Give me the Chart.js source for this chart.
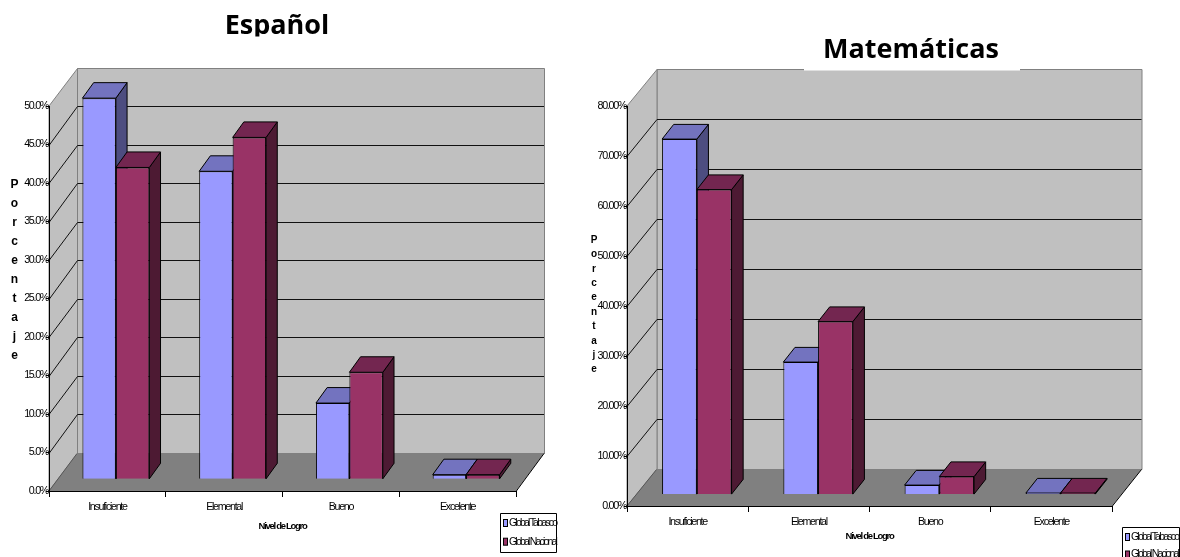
<!DOCTYPE html>
<html>
<head>
<meta charset="utf-8">
<title>Nivel de Logro</title>
<script src="https://cdn.jsdelivr.net/npm/chart.js@4"></script>
<style>
html, body { margin: 0; padding: 0; background: #fff; overflow: hidden; }
canvas { position: absolute; top: 0; }
#espanol { left: 0; }
#matematicas { left: 590px; }
</style>
</head>
<body>
<canvas id="espanol" width="590" height="557"></canvas>
<canvas id="matematicas" width="590" height="557"></canvas>
<script>
const categories = ['Insuficiente', 'Elemental', 'Bueno', 'Excelente'];
const seriesNames = ['Global Tabasco', 'Global Nacional'];
const espanolTabasco = [49.5, 40.0, 9.9, 0.6];
const espanolNacional = [40.5, 44.4, 13.9, 0.6];
const matematicasTabasco = [71.1, 26.5, 1.9, 0.3];
const matematicasNacional = [61.0, 34.6, 3.6, 0.3];
const axisTitleX = 'Nivel de Logro';
const axisTitleY = 'Porcentaje';

const frontColors = ['#9999ff', '#993366'];
const topColors = ['#7373bf', '#732650'];
const sideColors = ['#4d4d80', '#4d1a33'];

function poly(ctx, pts, fill, stroke) {
    ctx.beginPath();
    pts.forEach((p, i) => i ? ctx.lineTo(p[0], p[1]) : ctx.moveTo(p[0], p[1]));
    ctx.closePath();
    if (fill) { ctx.fillStyle = fill; ctx.fill(); }
    if (stroke) { ctx.strokeStyle = stroke; ctx.lineWidth = 1; ctx.stroke(); }
}

// Walls, floor and grid of the 3D box, behind everything else
const boxPlugin = {
    id: 'box',
    beforeDraw(chart, args, o) {
        const ctx = chart.ctx;
        const { left, right, top, bottom } = chart.chartArea;
        const dx = o.depthX, dy = o.depthY;
        ctx.letterSpacing = o.squeeze + 'px';
        ctx.save();
        const backTop = Math.round(top - dy) + 0.5;
        const backBottom = Math.round(bottom - dy) + 0.5;
        poly(ctx, [[left + dx + 0.5, backTop], [right + dx + 0.5, backTop], [right + dx + 0.5, backBottom], [left + dx + 0.5, backBottom]], '#c0c0c0', '#808080');
        poly(ctx, [[left, top], [left + dx + 0.5, backTop], [left + dx + 0.5, backBottom], [left, bottom]], '#c0c0c0', '#808080');
        ctx.strokeStyle = '#111';
        ctx.lineWidth = 1;
        chart.scales.y.ticks.forEach(t => {
            const y = chart.scales.y.getPixelForValue(t.value);
            if (t.value === 0 || y <= top + 1) return;
            const back = Math.round(y - dy) + 0.5;
            ctx.beginPath();
            ctx.moveTo(left, Math.round(y) + 0.5);
            ctx.lineTo(left + dx + 0.5, back);
            ctx.lineTo(right + dx, back);
            ctx.stroke();
        });
        poly(ctx, [[left, bottom], [right, bottom], [right + dx, backBottom], [left + dx, backBottom]], '#808080');
        ctx.strokeStyle = '#000';
        ctx.beginPath();
        ctx.moveTo(right, bottom + 0.5);
        ctx.lineTo(right + dx, backBottom);
        ctx.stroke();
        ctx.strokeStyle = '#555';
        ctx.beginPath();
        ctx.moveTo(left, bottom);
        ctx.lineTo(left + dx, backBottom);
        ctx.stroke();
        ctx.restore();
    }
};

// Top and side faces from the bar elements; the front faces are shifted into the box
const depthPlugin = {
    id: 'depth',
    beforeDatasetsDraw(chart, args, o) {
        const ctx = chart.ctx;
        const ox = o.shiftX, oy = o.shiftY, bx = o.barX, by = o.barY;
        ctx.save();
        ctx.lineJoin = 'round';
        chart.data.datasets.forEach((ds, i) => {
            chart.getDatasetMeta(i).data.forEach(bar => {
                const l = bar.x - bar.width / 2 + ox, r = bar.x + bar.width / 2 + ox;
                const t = bar.y + oy, b = bar.base + oy;
                poly(ctx, [[r, t], [r + bx, t - by], [r + bx, b - by], [r, b]], sideColors[i], '#000');
                poly(ctx, [[l, t], [l + bx, t - by], [r + bx, t - by], [r, t]], topColors[i], '#000');
            });
        });
        ctx.restore();
        ctx.save();
        ctx.translate(ox, oy);
    },
    afterDatasetsDraw(chart) {
        chart.ctx.restore();
    }
};

// Chart heading, stacked y axis title and the boxed legend
const labelsPlugin = {
    id: 'labels',
    afterDraw(chart, args, o) {
        const ctx = chart.ctx;
        ctx.save();
        if (o.mask) {
            ctx.fillStyle = '#fff';
            ctx.fillRect(o.mask[0], o.mask[1], o.mask[2], o.mask[3]);
        }
        ctx.beginPath();
        ctx.rect(0, 0, chart.width, o.headingClip);
        ctx.clip();
        ctx.letterSpacing = '0px';
        ctx.font = 'bold ' + o.headingSize + 'px "Open Sans"';
        ctx.fillStyle = '#000';
        ctx.textAlign = 'center';
        ctx.textBaseline = 'alphabetic';
        ctx.fillText(o.heading, o.headingX, o.headingY);
        ctx.restore();

        ctx.save();
        ctx.letterSpacing = '0px';
        ctx.font = 'bold ' + o.stackSize + 'px "Liberation Sans"';
        ctx.fillStyle = '#000';
        ctx.textAlign = 'center';
        ctx.textBaseline = 'middle';
        axisTitleY.split('').forEach((ch, i) => ctx.fillText(ch, o.stackX, o.stackY + i * o.stackStep));

        poly(ctx, [[o.legendX + 0.5, o.legendY + 0.5], [o.legendX + o.legendW + 0.5, o.legendY + 0.5], [o.legendX + o.legendW + 0.5, o.legendY + o.legendH + 0.5], [o.legendX + 0.5, o.legendY + o.legendH + 0.5]], '#fff', '#000');
        ctx.font = o.legendSize + 'px "Liberation Sans"';
        ctx.letterSpacing = o.legendSqueeze + 'px';
        ctx.textAlign = 'left';
        chart.data.datasets.forEach((ds, i) => {
            const y = o.legendY + o.legendFirst + i * o.legendStep;
            ctx.fillStyle = ds.backgroundColor;
            ctx.strokeStyle = '#000';
            ctx.lineWidth = 1;
            ctx.fillRect(o.legendX + 3.5, y - 3.5, 4, 7);
            ctx.strokeRect(o.legendX + 3.5, y - 3.5, 4, 7);
            ctx.fillStyle = '#000';
            ctx.fillText(ds.label, o.legendX + 9, y);
        });
        ctx.restore();
    }
};

function makeChart(id, tabasco, nacional, c) {
    return new Chart(document.getElementById(id), {
        type: 'bar',
        data: {
            labels: categories,
            datasets: [tabasco, nacional].map((values, i) => ({
                label: seriesNames[i],
                data: values,
                backgroundColor: frontColors[i],
                borderColor: '#000',
                borderWidth: 1,
                barPercentage: 1,
                categoryPercentage: 0.573,
                clip: false
            }))
        },
        options: {
            responsive: false,
            animation: false,
            events: [],
            layout: {
                autoPadding: false,
                padding: { left: 0, top: c.top, right: 590 - c.right, bottom: 557 - c.bottom - c.xHeight }
            },
            plugins: {
                legend: { display: false },
                tooltip: { enabled: false },
                box: { depthX: c.depthX, depthY: c.depthY, squeeze: -1.3 },
                depth: { shiftX: c.shiftX, shiftY: c.shiftY, barX: c.barX, barY: c.barY },
                labels: c.labels
            },
            scales: {
                x: {
                    afterFit: s => { s.height = c.xHeight; },
                    grid: { offset: true, drawOnChartArea: false, drawTicks: true, tickLength: 6, color: '#000' },
                    border: { color: '#000', width: 1 },
                    ticks: {
                        color: '#000',
                        maxRotation: 0,
                        padding: c.xPadding,
                        font: { family: '"Liberation Sans"', size: 10.7 }
                    },
                    title: {
                        display: true,
                        text: axisTitleX,
                        color: '#000',
                        font: { family: '"Liberation Sans"', size: 9.5, weight: 'bold' },
                        padding: { top: 0, bottom: c.xTitleBottom }
                    }
                },
                y: {
                    min: 0,
                    max: c.max,
                    afterFit: s => { s.width = c.left; },
                    grid: { drawOnChartArea: false, drawTicks: true, tickLength: 3, color: '#000' },
                    border: { color: '#000', width: 1 },
                    ticks: {
                        stepSize: c.step,
                        color: '#000',
                        padding: -2,
                        font: { family: '"Liberation Sans"', size: 10.7 },
                        callback: v => v.toFixed(c.decimals) + '%'
                    }
                }
            }
        },
        plugins: [boxPlugin, depthPlugin, labelsPlugin]
    });
}

makeChart('espanol', espanolTabasco, espanolNacional, {
    left: 49, right: 516, top: 106, bottom: 491, xHeight: 66, xPadding: 4, xTitleBottom: 24.5,
    max: 50, step: 5, decimals: 1,
    depthX: 28, depthY: 38.5, shiftX: 8.5, shiftY: -11.7, barX: 11.2, barY: 15.5,
    labels: {
        heading: 'Español', headingX: 277, headingY: 34, headingSize: 27, headingClip: 36.5,
        stackX: 14.5, stackY: 185, stackStep: 19, stackSize: 12,
        legendX: 500, legendY: 513, legendW: 56, legendH: 39, legendFirst: 10, legendStep: 18.7,
        legendSize: 10.5, legendSqueeze: -1.8
    }
});

makeChart('matematicas', matematicasTabasco, matematicasNacional, {
    left: 37, right: 522, top: 106, bottom: 506, xHeight: 51, xPadding: 4, xTitleBottom: 14.5,
    max: 80, step: 10, decimals: 2,
    depthX: 29.5, depthY: 36.6, shiftX: 9.2, shiftY: -11.4, barX: 11.6, barY: 14.7,
    labels: {
        heading: 'Matemáticas', headingX: 321, headingY: 58, headingSize: 27, headingClip: 70,
        mask: [214, 40, 216, 30.5],
        stackX: 4, stackY: 240, stackStep: 14.4, stackSize: 10,
        legendX: 532, legendY: 527, legendW: 57, legendH: 40, legendFirst: 10, legendStep: 17.5,
        legendSize: 10.5, legendSqueeze: -1.8
    }
});
</script>
</body>
</html>
